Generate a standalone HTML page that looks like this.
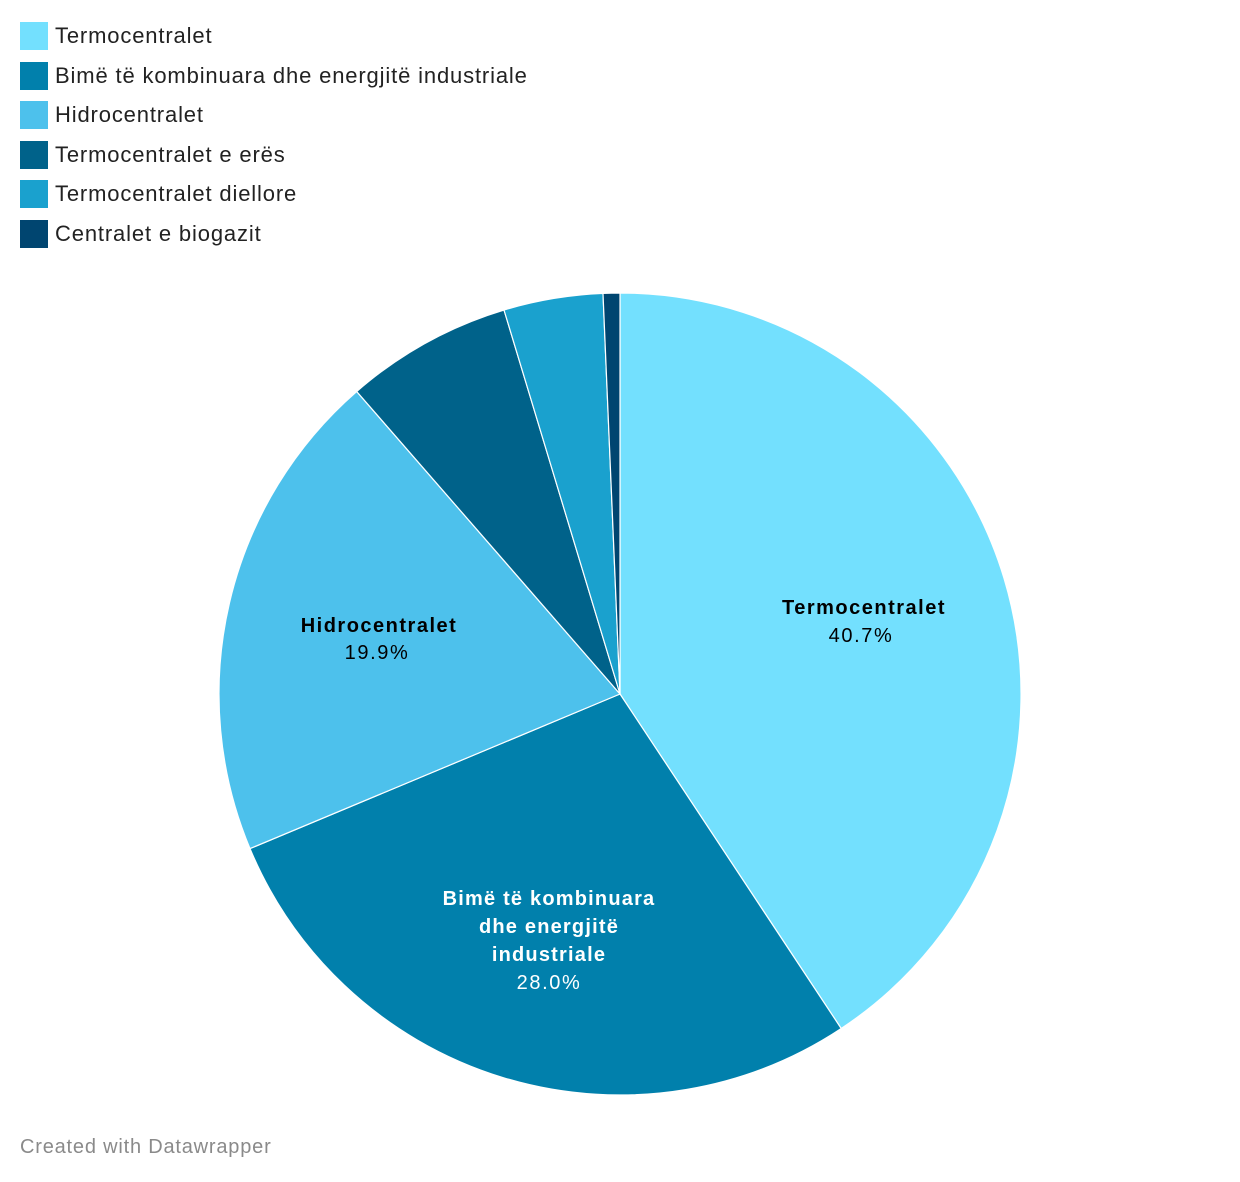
<!DOCTYPE html>
<html><head><meta charset="utf-8"><style>
body{margin:0;width:1240px;height:1182px;background:#fff;font-family:"Liberation Sans",Roboto,sans-serif;position:relative;overflow:hidden}
.leg{position:absolute;left:20px;font-size:22px;letter-spacing:0.85px;color:#222;display:flex;align-items:center;height:28px}
.leg i{display:inline-block;width:28px;height:28px;margin-right:7px}
.foot{position:absolute;left:20px;top:1136px;font-size:20px;letter-spacing:0.8px;color:#8a8a8a}
</style></head><body>
<div class="leg" style="top:22px"><i style="background:#73e0fe"></i>Termocentralet</div>
<div class="leg" style="top:62px"><i style="background:#0180ac"></i>Bimë të kombinuara dhe energjitë industriale</div>
<div class="leg" style="top:101px"><i style="background:#4dc1ec"></i>Hidrocentralet</div>
<div class="leg" style="top:141px"><i style="background:#00628a"></i>Termocentralet e erës</div>
<div class="leg" style="top:180px"><i style="background:#1aa1ce"></i>Termocentralet diellore</div>
<div class="leg" style="top:220px"><i style="background:#004570"></i>Centralet e biogazit</div>
<svg width="1240" height="1182" style="position:absolute;left:0;top:0">
<g stroke="#fff" stroke-width="1.2">
<path d="M620,694 L620,293 A401,401 0 0 1 841.2,1028.5 Z" fill="#73e0fe"/>
<path d="M620,694 L841.2,1028.5 A401,401 0 0 1 250.0,848.6 Z" fill="#0180ac"/>
<path d="M620,694 L250.0,848.6 A401,401 0 0 1 356.7,391.5 Z" fill="#4dc1ec"/>
<path d="M620,694 L356.7,391.5 A401,401 0 0 1 504,310 Z" fill="#00628a"/>
<path d="M620,694 L504,310 A401,401 0 0 1 603,293.4 Z" fill="#1aa1ce"/>
<path d="M620,694 L603,293.4 A401,401 0 0 1 620,293 Z" fill="#004570"/>
</g>
<g font-family="Liberation Sans, sans-serif" font-size="20" text-anchor="middle">
<text x="864" y="614" font-weight="bold" fill="#000" letter-spacing="1.5">Termocentralet</text>
<text x="861" y="642" fill="#000" letter-spacing="1.6">40.7%</text>
<text x="379" y="632" font-weight="bold" fill="#000" letter-spacing="1.5">Hidrocentralet</text>
<text x="377" y="659" fill="#000" letter-spacing="1.6">19.9%</text>
<g letter-spacing="1.2">
<text x="549" y="905" font-weight="bold" fill="#fff">Bimë të kombinuara</text>
<text x="549" y="933" font-weight="bold" fill="#fff">dhe energjitë</text>
<text x="549" y="961" font-weight="bold" fill="#fff">industriale</text>
</g>
<text x="549" y="989" fill="#fff" letter-spacing="1.6">28.0%</text>
</g>
</svg>
<div class="foot">Created with Datawrapper</div>
</body></html>
